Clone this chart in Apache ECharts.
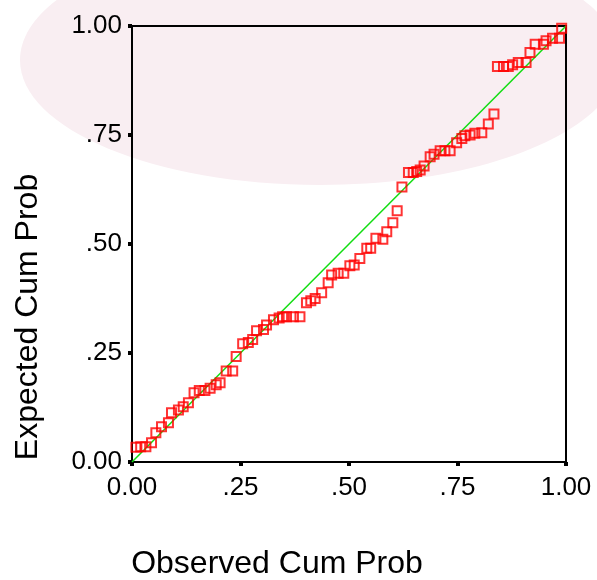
<!DOCTYPE html>
<html>
<head>
<meta charset="utf-8">
<script src="https://cdn.jsdelivr.net/npm/echarts@6/dist/echarts.min.js"></script>
<style>
    html, body { margin: 0; padding: 0; background: #ffffff; }
    #pp-plot { width: 597px; height: 580px; }
</style>
</head>
<body>
<div id="pp-plot"></div>
<script>
// Observed vs expected cumulative probability (P-P plot)
const OBSERVED_CUM_PROB = [
    0.009, 0.020, 0.032, 0.045, 0.055, 0.068, 0.084, 0.091, 0.107, 0.118,
    0.130, 0.143, 0.155, 0.168, 0.180, 0.194, 0.203, 0.217, 0.232, 0.240,
    0.255, 0.268, 0.278, 0.287, 0.303, 0.310, 0.326, 0.339, 0.347, 0.356,
    0.372, 0.387, 0.402, 0.412, 0.422, 0.437, 0.452, 0.460, 0.475, 0.488,
    0.502, 0.512, 0.525, 0.541, 0.550, 0.562, 0.578, 0.587, 0.601, 0.611,
    0.622, 0.637, 0.648, 0.656, 0.664, 0.673, 0.687, 0.696, 0.710, 0.721,
    0.733, 0.748, 0.760, 0.767, 0.779, 0.790, 0.806, 0.821, 0.834, 0.842,
    0.856, 0.867, 0.877, 0.890, 0.908, 0.917, 0.929, 0.948, 0.954, 0.969,
    0.985, 0.990
];
const EXPECTED_CUM_PROB = [
    0.034, 0.035, 0.035, 0.044, 0.067, 0.081, 0.090, 0.113, 0.119, 0.127,
    0.136, 0.159, 0.164, 0.164, 0.169, 0.177, 0.182, 0.209, 0.209, 0.242,
    0.271, 0.274, 0.281, 0.301, 0.304, 0.314, 0.326, 0.330, 0.333, 0.333,
    0.333, 0.333, 0.365, 0.370, 0.375, 0.388, 0.411, 0.429, 0.433, 0.433,
    0.450, 0.452, 0.467, 0.490, 0.490, 0.513, 0.511, 0.528, 0.549, 0.576,
    0.631, 0.664, 0.664, 0.666, 0.670, 0.679, 0.700, 0.706, 0.714, 0.714,
    0.714, 0.732, 0.742, 0.748, 0.750, 0.754, 0.755, 0.775, 0.798, 0.907,
    0.907, 0.907, 0.911, 0.916, 0.916, 0.939, 0.958, 0.958, 0.966, 0.972,
    0.972, 0.995
];
// reference diagonal
const DIAGONAL = [[0, 0], [1, 1]];
const TICK_LABELS = { 0: '0.00', 0.25: '.25', 0.5: '.50', 0.75: '.75', 1: '1.00' };

const FONT = '"Liberation Sans", Arial, sans-serif';

let pp_chart = echarts.init(document.getElementById('pp-plot'), null, { renderer: 'canvas' });

let points = OBSERVED_CUM_PROB.map(function (x, i) {
    return [x, EXPECTED_CUM_PROB[i]];
});

function tickLabel(v) {
    return TICK_LABELS[v] !== undefined ? TICK_LABELS[v] : '';
}

let axis_common = {
    type: 'value',
    min: 0,
    max: 1,
    interval: 0.25,
    splitLine: { show: false },
    axisLine: { show: true, onZero: false, lineStyle: { color: '#000', width: 2 } },
    axisTick: { show: true, length: 4, lineStyle: { color: '#000', width: 4 } },
    nameLocation: 'middle',
    nameTextStyle: { fontFamily: FONT, fontSize: 32, color: '#000' }
};

let pp_options = {
    backgroundColor: '#ffffff',
    animation: false,
    /* faint pink watermark tint behind the plot */
    graphic: [
        {
            type: 'ellipse',
            z: -10,
            silent: true,
            shape: { cx: 320, cy: 60, rx: 300, ry: 125 },
            style: { fill: '#f9eef2' }
        }
    ],
    grid: {
        left: 132,
        right: 31,
        top: 26,
        bottom: 118,
        outerBoundsMode: 'none',
        show: true,
        borderColor: '#000',
        borderWidth: 2,
        backgroundColor: 'transparent'
    },
    xAxis: Object.assign({}, axis_common, {
        name: 'Observed Cum Prob',
        nameGap: 86,
        nameTextStyle: Object.assign({}, axis_common.nameTextStyle, { padding: [0, 144, 0, 0] }),
        axisLabel: {
            margin: 13,
            fontFamily: FONT,
            fontSize: 26,
            color: '#000',
            formatter: tickLabel
        }
    }),
    yAxis: Object.assign({}, axis_common, {
        name: 'Expected Cum Prob',
        nameGap: 88,
        nameTextStyle: Object.assign({}, axis_common.nameTextStyle, { padding: [0, 146, 0, 0] }),
        axisLabel: {
            margin: 10,
            fontFamily: FONT,
            fontSize: 26,
            color: '#000',
            formatter: tickLabel
        }
    }),
    series: [
        {
            type: 'line',
            data: DIAGONAL,
            symbol: 'none',
            silent: true,
            lineStyle: { color: '#11dd11', width: 1.5 },
            z: 2
        },
        {
            type: 'scatter',
            data: points,
            symbol: 'rect',
            symbolSize: 9,
            itemStyle: { color: 'transparent', borderColor: '#ff0000', borderWidth: 2 },
            z: 3
        }
    ]
};

pp_chart.setOption(pp_options);

window.addEventListener('resize', function () {
    pp_chart.resize();
});
</script>
</body>
</html>
